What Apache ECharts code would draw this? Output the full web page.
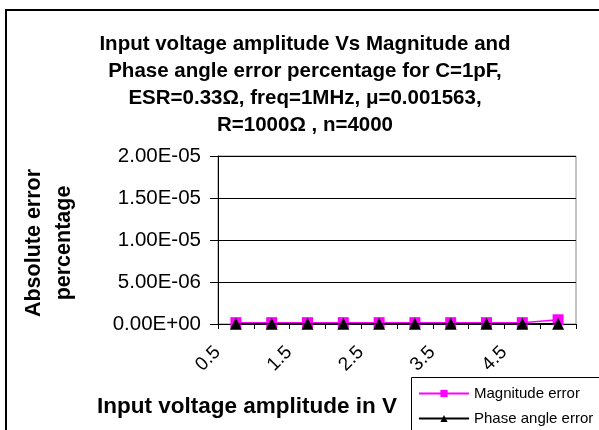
<!DOCTYPE html>
<html>
<head>
<meta charset="utf-8">
<script src="https://cdn.jsdelivr.net/npm/echarts@6/dist/echarts.min.js"></script>
<style>html,body{margin:0;padding:0;background:#fff;}#c{width:599px;height:430px;}</style>
</head>
<body>
<div id="c"></div>
<script>
const categories = ['0.5','1','1.5','2','2.5','3','3.5','4','4.5','5'];
const magnitudeError = [1.6e-7,1.6e-7,1.6e-7,1.6e-7,1.6e-7,1.6e-7,1.6e-7,1.6e-7,1.6e-7,5.0e-7];
const phaseError = [2e-8,2e-8,2e-8,2e-8,2e-8,2e-8,2e-8,2e-8,2e-8,2e-8];
const titleLines = ['Input voltage amplitude Vs Magnitude and','Phase angle error percentage for C=1pF,','ESR=0.33\u03A9, freq=1MHz, \u03BC=0.001563,','R=1000\u03A9 , n=4000'];

function fmt(v){
  if (Math.abs(v) < 1e-15) return '0.00E+00';
  const s = v.toExponential(2);
  const parts = s.split('e');
  const sign = parts[1][0] === '-' ? '-' : '+';
  let d = parts[1].replace(/[+-]/,'');
  if (d.length < 2) d = '0' + d;
  return parts[0] + 'E' + sign + d;
}

const font = 'Liberation Sans, Arial, sans-serif';
const chart = echarts.init(document.getElementById('c'), null, {renderer:'canvas'});
chart.setOption({
  animation: false,
  backgroundColor: '#fff',
  title: {
    text: titleLines.join('\n'),
    left: 300, textAlign: 'center', top: 26,
    textStyle: {fontFamily: font, fontSize: 20.5, fontWeight: 'bold', color: '#000', lineHeight: 27}
  },
  graphic: [
    {type:'rect', shape:{x:6, y:10, width:620, height:440}, style:{fill:'none', stroke:'#000', lineWidth:2}, silent:true, z:-1},
    {type:'rect', shape:{x:411.5, y:377.5, width:240, height:80}, style:{fill:'#fff', stroke:'#000', lineWidth:1}, silent:true, z:5},
    {type:'text', left: 97, top: 395, style:{text:'Input voltage amplitude in V', font:'bold 22.5px Liberation Sans, Arial, sans-serif', fill:'#000'}}
  ],
  grid: {left: 218, right: 23, top: 156, bottom: 106, show: true, borderColor: '#888', borderWidth: 1},
  legend: {
    orient: 'vertical', left: 411, top: 377, z: 10,
    borderWidth: 0,
    padding: [9, 2, 0, 7], itemGap: 10, itemWidth: 50, itemHeight: 9,
    textStyle: {fontFamily: font, fontSize: 15, color: '#000'},
    data: ['Magnitude error', 'Phase angle error']
  },
  xAxis: {
    type: 'category', data: categories, boundaryGap: true,
    axisLine: {lineStyle: {color: '#000', width: 1}},
    axisTick: {show: true, interval: 0, length: 5, lineStyle: {color: '#000'}},
    axisLabel: {interval: 1, rotate: 45, fontFamily: font, fontSize: 19, color: '#000', margin: 7, padding: [0, 26, 0, 0]},
    splitLine: {show: false}
  },
  yAxis: {
    type: 'value', min: 0, max: 2e-5, interval: 5e-6,
    name: 'Absolute error\npercentage', nameLocation: 'middle', nameRotate: 90, nameGap: 139,
    nameTextStyle: {fontFamily: font, fontSize: 21.5, fontWeight: 'bold', color: '#000', lineHeight: 30, padding: [0, 6, 0, 0]},
    axisLine: {show: true, lineStyle: {color: '#000'}},
    axisTick: {show: true, length: 8, lineStyle: {color: '#000'}},
    axisLabel: {formatter: fmt, fontFamily: font, fontSize: 20.5, color: '#000', margin: 17},
    splitLine: {show: true, lineStyle: {color: '#000', width: 1}}
  },
  series: [
    {name: 'Magnitude error', type: 'line', data: magnitudeError, symbol: 'rect', symbolSize: 11,
     itemStyle: {color: '#FF00FF'}, lineStyle: {color: '#FF00FF', width: 1.5}, z: 2},
    {name: 'Phase angle error', type: 'line', data: phaseError, symbol: 'triangle', symbolSize: 12,
     itemStyle: {color: '#000'}, lineStyle: {color: '#000', width: 1.5}, z: 3}
  ]
});
</script>
</body>
</html>
